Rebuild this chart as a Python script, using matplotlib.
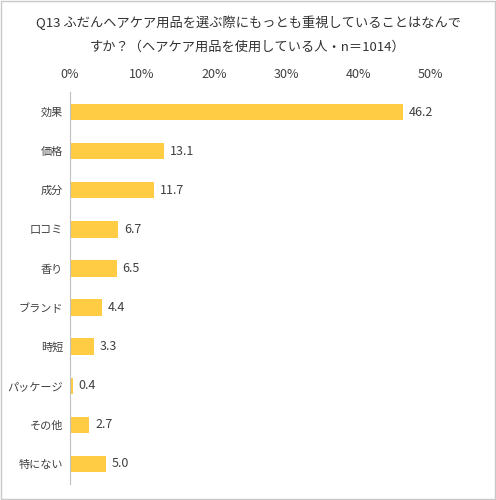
import matplotlib.pyplot as plt
from matplotlib.patches import Rectangle

plt.rcParams['font.family'] = ['Noto Sans CJK JP', 'DejaVu Sans']

categories = ["効果", "価格", "成分", "口コミ", "香り", "ブランド", "時短", "パッケージ", "その他", "特にない"]
values = [46.2, 13.1, 11.7, 6.7, 6.5, 4.4, 3.3, 0.4, 2.7, 5.0]
ticks = [0, 10, 20, 30, 40, 50]
tick_labels = ["0%", "10%", "20%", "30%", "40%", "50%"]

fig = plt.figure(figsize=(4.96, 5.0), dpi=100)
fig.patches.append(Rectangle((0.002, 0.002), 0.996, 0.996, transform=fig.transFigure,
                             fill=False, edgecolor="#c8c8c8", linewidth=1))
ax = fig.add_axes([0.141, 0.033, 0.726, 0.782])

y = list(range(len(categories)))
ax.barh(y, values, height=0.42, color="#FFCC44")
for yi, v in zip(y, values):
    ax.text(v + 0.8, yi, f"{v:.1f}", va="center", ha="left", fontsize=9, color="#404040")

ax.set_xlim(0, 50)
ax.set_ylim(len(categories) - 0.5, -0.5)
ax.set_yticks(y)
ax.set_yticklabels(categories, fontsize=8, color="#404040")
ax.set_xticks(ticks)
ax.set_xticklabels(tick_labels, fontsize=9, color="#404040")
ax.xaxis.tick_top()
ax.tick_params(axis="x", length=0, pad=8)
ax.tick_params(axis="y", length=0, pad=5)
for s in ["top", "right", "bottom"]:
    ax.spines[s].set_visible(False)
ax.spines["left"].set_color("#bfbfbf")

fig.text(0.5, 0.955, "Q13 ふだんヘアケア用品を選ぶ際にもっとも重視していることはなんで",
         ha="center", va="center", fontsize=9.5, color="#333333")
fig.text(0.5, 0.905, "すか？（ヘアケア用品を使用している人・n＝1014）",
         ha="center", va="center", fontsize=9.5, color="#333333")

fig.savefig("out.png", dpi=100)
